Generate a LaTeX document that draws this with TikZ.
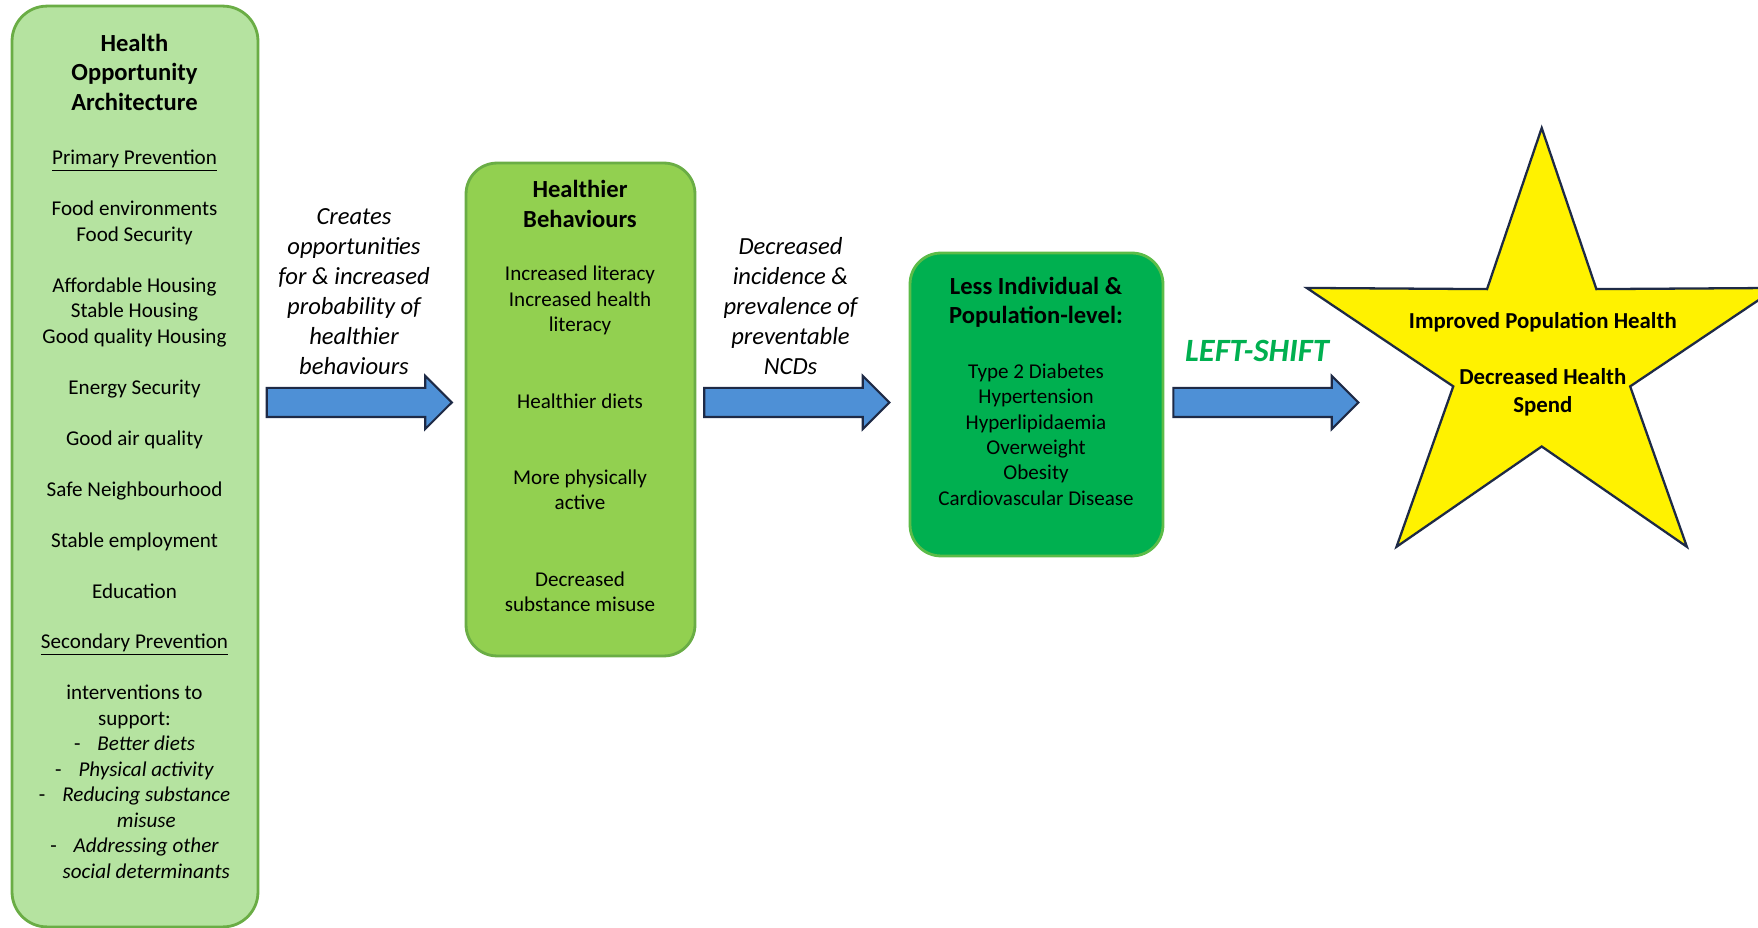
\documentclass[tikz,border=0pt]{standalone}
\usepackage{fontspec}
\setmainfont{Carlito}
\usepackage{xcolor}
\usetikzlibrary{calc,positioning,shapes.arrows}
\definecolor{hoafill}{RGB}{181,227,160}
\definecolor{behfill}{RGB}{146,208,80}
\definecolor{boxedge}{RGB}{106,173,69}
\definecolor{ncdfill}{RGB}{0,176,80}
\definecolor{ncdedge}{RGB}{92,188,72}
\definecolor{flowfill}{RGB}{78,144,214}
\definecolor{darkedge}{RGB}{30,42,70}
\definecolor{shiftgreen}{RGB}{0,176,80}
\newcommand{\dashitem}[1]{\hspace*{0.47cm}\llap{-\hspace{0.34cm}}\textit{#1}}
\newcommand{\dashcont}[1]{\hspace*{0.47cm}\textit{#1}}
\tikzset{
  hoabox/.style={ % tall box on the left
    draw=boxedge, line width=1.6pt, fill=hoafill, rectangle,
    rounded corners=0.7cm, minimum width=4.92cm, minimum height=18.42cm
  },
  behbox/.style={ % behaviours box
    draw=boxedge, line width=1.6pt, fill=behfill, rectangle,
    rounded corners=0.62cm, minimum width=4.58cm, minimum height=9.86cm
  },
  ncdbox/.style={ % outcomes box
    draw=ncdedge, line width=1.6pt, fill=ncdfill, rectangle,
    rounded corners=0.62cm, minimum width=5.06cm, minimum height=6.06cm
  },
  flow/.style={ % blue block arrow
    single arrow, draw=darkedge, line width=1.2pt, fill=flowfill,
    inner xsep=0pt, inner ysep=0.27cm, minimum height=3.7cm,
    single arrow head extend=0.24cm, single arrow tip angle=90
  },
  goal/.style={
    draw=darkedge, line width=1.3pt, fill=yellow, line join=miter
  },
  boxtitle/.style={font=\bfseries\fontsize{14}{16.9}\selectfont, align=center, inner sep=0pt},
  boxtext/.style={font=\fontsize{12}{14.5}\selectfont, align=center, inner sep=0pt},
  flowlabel/.style={font=\itshape\fontsize{14}{17}\selectfont, align=center, inner sep=0pt}
}
\begin{document}
\begin{tikzpicture}[x=0.02cm, y=-0.02cm]
    \useasboundingbox (0,0) rectangle (1758,928);

    % boxes
    \node[hoabox] (hoa) at (135,466.5) {};
    \node[behbox] (beh) at (580.5,409.5) {};
    \node[ncdbox] (ncd) at (1036.5,404.5) {};

    \node[boxtitle] (hoa_title) at (134.5,72.3) {Health\\Opportunity\\Architecture};
    \node[boxtext] (hoa_text) at (134.5,514.4) {\underline{Primary Prevention}\\[14.5pt]
      Food environments\\Food Security\\[14.5pt]
      Affordable Housing\\Stable Housing\\Good quality Housing\\[14.5pt]
      Energy Security\\[14.5pt]
      Good air quality\\[14.5pt]
      Safe Neighbourhood\\[14.5pt]
      Stable employment\\[14.5pt]
      Education\\[14.5pt]
      \underline{Secondary Prevention}\\[14.5pt]
      interventions to\\support:\\
      \dashitem{Better diets}\\
      \dashitem{Physical activity}\\
      \dashitem{Reducing substance}\\
      \dashcont{misuse}\\
      \dashitem{Addressing other}\\
      \dashcont{social determinants}};

    \node[boxtitle] (beh_title) at (580,204) {Healthier\\Behaviours};
    \node[boxtext] (beh_text) at (580,439) {Increased literacy\\Increased health\\literacy\\[29pt]
      Healthier diets\\[29pt]
      More physically\\active\\[29pt]
      Decreased\\substance misuse};

    \node[boxtitle] (ncd_title) at (1036,302.2) {Less Individual \&\\Population-level:};
    \node[boxtext] (ncd_text) at (1036,434.5) {Type 2 Diabetes\\Hypertension\\Hyperlipidaemia\\
      Overweight\\Obesity\\Cardiovascular Disease};

    % block arrows and their labels
    \node[flow] (arr1) at (352,402.5) {};
    \node[flow] (arr2) at (789.5,402.5) {};
    \node[flow] (arr3) at (1258.5,402.5) {};

    \node[flowlabel] (lab1) at (354,291.5) {Creates\\opportunities\\for \& increased\\probability of\\healthier\\behaviours};
    \node[flowlabel] (lab2) at (790.5,306) {Decreased\\incidence \&\\prevalence of\\preventable\\NCDs};
    \node[font=\bfseries\itshape\fontsize{18.5}{22}\selectfont, text=shiftgreen, inner sep=0pt] (shift) at (1257,351) {LEFT-SHIFT};

    % star
    \coordinate (sc) at (1541.7,359.5);
    \begin{scope}[shift={(sc)}]
      \draw[goal] (-90:247 and 231.5) \foreach \k in {0,...,4} {
        -- (-54+72*\k:93 and 87) -- (-18+72*\k:247 and 231.5) } -- cycle;
    \end{scope}
    \node[font=\bfseries\fontsize{13}{15.9}\selectfont, align=center, inner sep=0pt] (goal_text) at (1542.8,364)
      {Improved Population Health\\[15.9pt]Decreased Health\\Spend};
\end{tikzpicture}
\end{document}
